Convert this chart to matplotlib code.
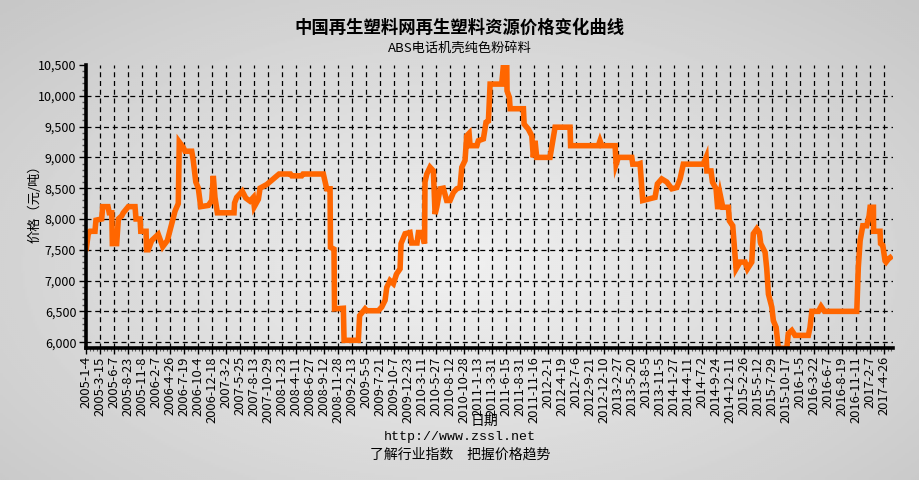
import numpy as np
import matplotlib
matplotlib.use("Agg")
import matplotlib.pyplot as plt
from matplotlib.ticker import FuncFormatter, MultipleLocator

plt.rcParams['font.family'] = ['Noto Sans CJK SC', 'DejaVu Sans']

# x in label-interval units (one step per date label), y in 元/吨
pos = [0.00, 0.16, 0.29, 0.64, 0.71, 1.12, 1.19, 1.57, 1.66, 1.84, 1.88, 2.19,
       2.31, 2.55, 2.66, 3.02, 3.50, 3.57, 3.86, 3.91, 4.29, 4.32, 4.45, 4.69,
       5.16, 5.48, 5.81, 6.12, 6.36, 6.59, 6.66, 6.95, 7.07, 7.55, 7.66, 7.84,
       8.02, 8.19, 8.74, 8.98, 9.09, 9.21, 9.38, 10.57, 10.61, 10.76, 11.16, 11.41,
       11.71, 11.95, 12.02, 12.31, 12.43, 12.91, 13.38, 13.79, 14.60, 14.70, 15.40, 15.50,
       16.20, 16.95, 17.19, 17.43, 17.46, 17.71, 17.75, 18.38, 18.43, 19.45, 19.54, 19.93,
       20.05, 20.88, 21.12, 21.36, 21.48, 21.71, 21.95, 22.19, 22.43, 22.50, 22.79, 23.14,
       23.26, 23.64, 23.74, 23.98, 24.18, 24.21, 24.34, 24.57, 24.81, 24.93, 25.05, 25.29,
       25.52, 25.76, 26.00, 26.24, 26.48, 26.71, 26.84, 27.07, 27.19, 27.36, 27.43, 27.91,
       28.02, 28.38, 28.57, 28.74, 28.86, 29.69, 29.81, 30.05, 30.07, 30.24, 30.29, 31.24,
       31.29, 31.59, 31.84, 31.95, 32.07, 32.19, 33.14, 33.26, 33.50, 34.57, 34.61, 36.59,
       36.71, 36.84, 37.79, 37.86, 38.02, 38.98, 39.05, 39.45, 39.57, 39.76, 40.64, 40.81,
       41.12, 41.48, 41.84, 42.19, 42.43, 42.66, 44.09, 44.29, 44.34, 44.64, 44.74, 45.00,
       45.12, 45.29, 45.48, 45.88, 45.95, 46.19, 46.36, 46.43, 46.71, 47.07, 47.24, 47.55,
       47.66, 47.91, 48.09, 48.19, 48.50, 48.62, 48.74, 48.98, 49.09, 49.29, 49.45, 50.05,
       50.16, 50.41, 50.64, 51.59, 51.71, 51.84, 52.31, 52.50, 52.74, 55.05, 55.16, 55.29,
       55.48, 55.76, 55.93, 56.00, 56.24, 56.25, 56.71, 56.75, 56.91, 57.07, 57.14, 57.31,
       57.59]
price = [7480, 7760, 7800, 7800, 7980, 8000, 8200, 8200, 8100, 8100, 7600, 7600,
         8000, 8050, 8100, 8200, 8200, 8000, 8000, 7800, 7800, 7500, 7500, 7650,
         7750, 7550, 7650, 7920, 8130, 8250, 9250, 9160, 9100, 9100, 8950, 8600,
         8500, 8200, 8220, 8300, 8700, 8350, 8100, 8100, 8260, 8350, 8450, 8340,
         8290, 8350, 8200, 8320, 8500, 8560, 8650, 8730, 8730, 8700, 8700, 8730,
         8730, 8730, 8490, 8490, 7540, 7510, 6540, 6550, 6030, 6030, 6430, 6540,
         6510, 6510, 6570, 6680, 6890, 7000, 6950, 7110, 7190, 7600, 7760, 7780,
         7610, 7610, 7780, 7780, 7600, 8600, 8730, 8840, 8780, 8080, 8190, 8490,
         8500, 8300, 8300, 8430, 8490, 8510, 8840, 8950, 9350, 9390, 9190, 9190,
         9270, 9300, 9570, 9590, 10190, 10190, 10490, 10490, 10080, 9970, 9790, 9790,
         9540, 9460, 9350, 9000, 9270, 9000, 9000, 9160, 9490, 9490, 9190, 9190,
         9270, 9190, 9190, 8890, 9000, 9000, 8890, 8890, 8900, 8300, 8350, 8570,
         8650, 8600, 8490, 8510, 8650, 8890, 8890, 9000, 8780, 8780, 8600, 8490,
         8160, 8400, 8190, 8190, 7970, 7890, 7380, 7190, 7300, 7300, 7190, 7300,
         7760, 7840, 7780, 7600, 7460, 7190, 6780, 6570, 6350, 6240, 5900, 5900,
         6140, 6190, 6110, 6110, 6240, 6500, 6500, 6580, 6500, 6500, 7220, 7650,
         7890, 7890, 8050, 8190, 8190, 7800, 7800, 7600, 7570, 7320, 7300, 7350,
         7400]

date_labels = ["2005-1-4", "2005-3-15", "2005-6-7", "2005-8-23", "2005-11-8",
               "2006-2-7", "2006-4-26", "2006-7-19", "2006-10-4", "2006-12-18",
               "2007-3-2", "2007-5-25", "2007-8-13", "2007-10-29", "2008-1-23",
               "2008-4-11", "2008-6-27", "2008-9-12", "2008-11-28", "2009-2-13",
               "2009-5-5", "2009-7-21", "2009-10-7", "2009-12-23", "2010-3-11",
               "2010-5-27", "2010-8-12", "2010-10-28", "2011-1-13", "2011-3-31",
               "2011-6-15", "2011-8-31", "2011-11-16", "2012-2-1", "2012-4-19",
               "2012-7-6", "2012-9-21", "2012-12-10", "2013-2-27", "2013-5-20",
               "2013-8-5", "2013-11-5", "2014-1-27", "2014-4-11", "2014-7-2",
               "2014-9-24", "2014-12-11", "2015-2-26", "2015-5-12", "2015-7-29",
               "2015-10-17", "2016-1-5", "2016-3-22", "2016-6-7", "2016-8-19",
               "2016-11-11", "2017-2-7", "2017-4-26"]

y_ticks = [6000, 6500, 7000, 7500, 8000, 8500, 9000, 9500, 10000, 10500]

fig = plt.figure(figsize=(9.2, 4.8), dpi=100)

# soft grey radial background
bg = fig.add_axes([0, 0, 1, 1], zorder=-10)
bg.axis('off')
yy, xx = np.mgrid[0:1:240j, 0:1:460j]
r = np.sqrt(((xx - 0.5) / 0.75) ** 2 + ((yy - 0.55) / 0.8) ** 2)
shade = np.clip(0.94 - 0.17 * r, 0.78, 0.95)
bg.imshow(shade, cmap='gray', vmin=0, vmax=1, aspect='auto',
          extent=(0, 1, 0, 1), interpolation='bilinear')

ax = fig.add_axes([0.0935, 0.275, 0.8772, 0.5896])
ax.set_facecolor('none')

ax.plot(pos, price, color='#FF6600', lw=4.0, solid_joinstyle='miter',
        solid_capstyle='butt', zorder=3, clip_on=True)

ax.set_xlim(0, 57.64)
ax.set_ylim(5905, 10500)

ax.set_xticks(range(len(date_labels)))
ax.set_xticklabels(date_labels, rotation=90, fontsize=9.3)
ax.xaxis.set_minor_locator(MultipleLocator(0.25))
ax.set_yticks(y_ticks)
ax.yaxis.set_major_formatter(FuncFormatter(lambda v, p: f"{int(v):,}"))
ax.yaxis.set_minor_locator(MultipleLocator(100))
ax.tick_params(axis='y', which='major', length=5, width=1, labelsize=9, pad=2)
ax.tick_params(axis='y', which='minor', length=3, width=1, color='#555555')
ax.tick_params(axis='x', which='major', length=4, width=1, pad=2)
ax.tick_params(axis='x', which='minor', length=2, width=0.8, color='#555555')

for v in y_ticks[:-1]:
    ax.axhline(v, color='black', lw=0.9, ls=(0, (4, 3)), zorder=1)
for i in range(1, len(date_labels)):
    ax.axvline(i, color='black', lw=0.9, ls=(0, (4, 3)), zorder=1)

for s in ['top', 'right']:
    ax.spines[s].set_visible(False)
for s in ['left', 'bottom']:
    ax.spines[s].set_linewidth(2.6)
    ax.spines[s].set_zorder(4)

ax.set_ylabel("价格（元/吨）", fontsize=9.5)
ax.yaxis.set_label_coords(-0.055, 0.52)

fig.text(0.5, 0.942, "中国再生塑料网再生塑料资源价格变化曲线", ha='center', va='center',
         fontsize=12.5, fontweight='bold')
fig.text(0.5, 0.9, "ABS电话机壳纯色粉碎料", ha='center', va='center', fontsize=9.5)
fig.text(0.527, 0.124, "日期", ha='center', va='center', fontsize=10)
fig.text(0.5, 0.089, "http://www.zssl.net", ha='center', va='center', fontsize=9.5,
         family=['Liberation Mono', 'DejaVu Sans Mono'])
fig.text(0.5, 0.052, "了解行业指数　把握价格趋势", ha='center', va='center', fontsize=10)

fig.savefig("out.png", dpi=100)
